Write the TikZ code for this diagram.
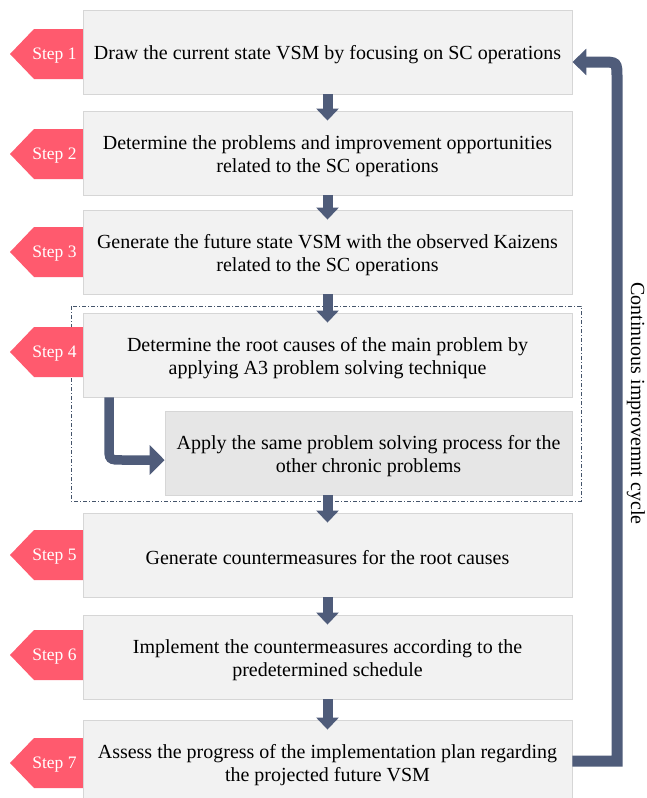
\documentclass[tikz,border=0pt]{standalone}
\usepackage{fontspec}
\setmainfont{Liberation Serif}
\usetikzlibrary{arrows.meta}
\definecolor{boxfill}{RGB}{242,242,242}
\definecolor{subfill}{RGB}{230,230,230}
\definecolor{boxline}{RGB}{214,214,214}
\definecolor{flow}{RGB}{79,92,122}
\definecolor{tagred}{RGB}{255,90,110}
\definecolor{framecol}{RGB}{68,84,106}
% a stage: an empty box plus its caption set slightly below the centre
\newcommand\stagebox[4]{%
  \node[#2] (#1) at (#3) {};
  \node[stagetext] (#1text) at ([yshift=-3pt]#1.center) {#4};}
\begin{document}
\begin{tikzpicture}[x=1pt,y=-1pt,
  stage/.style={draw=boxline, line width=0.9pt, fill=boxfill,
    minimum width=489pt, minimum height=84pt, inner sep=0pt},
  substage/.style={stage, fill=subfill, minimum width=407pt},
  stagetext/.style={inner sep=0pt, align=center, font=\fontsize{20}{22.5}\selectfont},
  taglabel/.style={text=white, inner sep=0pt, font=\fontsize{17.5}{20}\selectfont},
  downflow/.style={draw=flow, line width=10pt, -{Triangle[width=22pt,length=12pt]}},
  bendflow/.style={draw=flow, line width=9.5pt, -{Triangle[width=29pt,length=15pt]}},
  loopflow/.style={draw=flow, line width=11pt, -{Triangle[width=26pt,length=14pt]}},
  groupframe/.style={draw=framecol, line width=0.8pt,
    dash pattern=on 4pt off 2pt on 1pt off 2pt}
]
\useasboundingbox (0,0) rectangle (646,798);

% dash-dotted frame around step 4 and its repeat loop
\draw[groupframe] (71,306) rectangle (581,501);

% step tags
\foreach \yc/\n in {54/1,154/2,252/3,352/4,555/5,655/6,763/7}{
  \fill[tagred] (83,\yc-25) -- (34,\yc-25) -- (10,\yc) -- (34,\yc+25) -- (83,\yc+25) -- cycle;
  \node[taglabel] (tag\n) at (54.5,\yc+1.5) {Step \n};
}

% process stages
\stagebox{b1}{stage}{327.5,52}{Draw the current state VSM by focusing on SC operations}
\stagebox{b2}{stage}{327.5,153}{Determine the problems and improvement opportunities\\related to the SC operations}
\stagebox{b3}{stage}{327.5,252}{Generate the future state VSM with the observed Kaizens\\related to the SC operations}
\stagebox{b4}{stage}{327.5,355}{Determine the root causes of the main problem by\\applying A3 problem solving technique}
\stagebox{sub}{substage}{368.5,453}{Apply the same problem solving process for the\\other chronic problems}
\stagebox{b5}{stage}{327.5,555}{Generate countermeasures for the root causes}
\stagebox{b6}{stage}{327.5,657}{Implement the countermeasures according to the\\predetermined schedule}
\stagebox{b7}{stage}{327.5,762}{Assess the progress of the implementation plan regarding\\the projected future VSM}

% downward flow between stages
\draw[downflow] (b1.south) -- ([yshift=-10pt]b2.north);
\draw[downflow] (b2.south) -- ([yshift=-10pt]b3.north);
\draw[downflow] (b3.south) -- ([yshift=-10pt]b4.north);
\draw[downflow] (b5.north |- sub.south) -- ([yshift=-10pt]b5.north);
\draw[downflow] (b5.south) -- ([yshift=-10pt]b6.north);
\draw[downflow] (b6.south) -- ([yshift=-10pt]b7.north);

% bent arrow into the repeated process
\draw[bendflow] ([xshift=-218.5pt]b4.south) -- (109,446)
  .. controls (109,460) .. (123,460) -- ([yshift=-7pt]sub.west);

% continuous improvement loop
\draw[loopflow] ([yshift=1pt]b7.east) -- (617,761) -- (617,78)
  .. controls (617,62) .. (601,62) -- ([yshift=-10pt]b1.east);
\node[rotate=-90, inner sep=0pt, font=\fontsize{20}{22.5}\selectfont] (cycle) at (636,403.5) {Continuous improvemnt cycle};
\end{tikzpicture}
\end{document}
